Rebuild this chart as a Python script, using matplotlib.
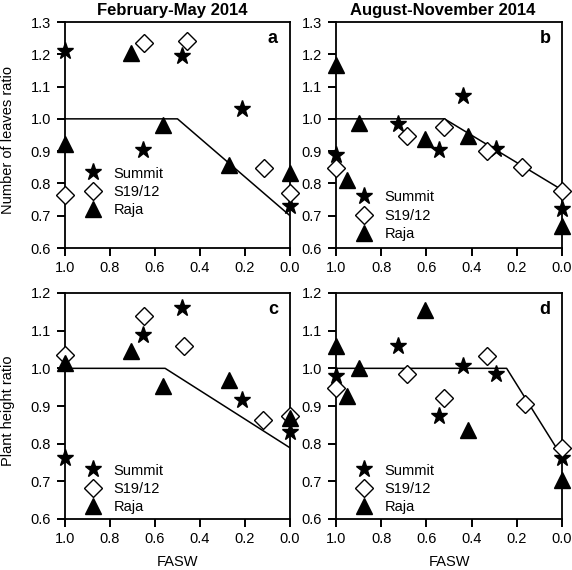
import numpy as np
import matplotlib.pyplot as plt

plt.rcParams["font.family"] = ["Liberation Sans", "DejaVu Sans"]

# ============================================================
# Data
# ============================================================

# Panel a: number of leaves ratio, February-May 2014
a_summit_x = [1.0, 0.48, 0.655, 0.215, 0.0]
a_summit_y = [1.21, 1.196, 0.905, 1.03, 0.73]
a_s1912_x  = [1.0, 0.65, 0.46, 0.114, 0.0]
a_s1912_y  = [0.765, 1.235, 1.242, 0.848, 0.77]
a_raja_x   = [1.0, 0.708, 0.563, 0.27, 0.0]
a_raja_y   = [0.923, 1.204, 0.982, 0.856, 0.832]
a_line_x   = [1.0, 0.5, 0.0]
a_line_y   = [1.0, 1.0, 0.70]

# Panel b: number of leaves ratio, August-November 2014
b_summit_x = [1.0, 0.724, 0.544, 0.439, 0.292, 0.0]
b_summit_y = [0.889, 0.985, 0.903, 1.07, 0.908, 0.721]
b_s1912_x  = [1.0, 0.687, 0.524, 0.332, 0.177, 0.0]
b_s1912_y  = [0.848, 0.946, 0.975, 0.899, 0.851, 0.776]
b_raja_x   = [1.0, 0.953, 0.898, 0.606, 0.414, 0.0]
b_raja_y   = [1.166, 0.812, 0.987, 0.938, 0.946, 0.667]
b_line_x   = [1.0, 0.52, 0.0]
b_line_y   = [1.0, 1.0, 0.78]

# Panel c: plant height ratio, February-May 2014
c_summit_x = [1.0, 0.655, 0.481, 0.215, 0.0]
c_summit_y = [0.762, 1.089, 1.16, 0.915, 0.83]
c_s1912_x  = [1.0, 0.649, 0.47, 0.119, 0.0]
c_s1912_y  = [1.036, 1.138, 1.06, 0.864, 0.873]
c_raja_x   = [1.0, 0.708, 0.563, 0.27, 0.0]
c_raja_y   = [1.014, 1.045, 0.954, 0.97, 0.868]
c_line_x   = [1.0, 0.555, 0.0]
c_line_y   = [1.0, 1.0, 0.789]

# Panel d: plant height ratio, August-November 2014
d_summit_x = [1.0, 0.724, 0.544, 0.439, 0.292, 0.0]
d_summit_y = [0.979, 1.058, 0.874, 1.007, 0.986, 0.762]
d_s1912_x  = [1.0, 0.687, 0.524, 0.332, 0.165, 0.0]
d_s1912_y  = [0.948, 0.986, 0.921, 1.032, 0.904, 0.789]
d_raja_x   = [1.0, 0.953, 0.898, 0.606, 0.414, 0.0]
d_raja_y   = [1.058, 0.926, 1.001, 1.156, 0.837, 0.704]
d_line_x   = [1.0, 0.245, 0.0]
d_line_y   = [1.0, 1.0, 0.765]

X_TICKS = [1.0, 0.8, 0.6, 0.4, 0.2, 0.0]

# ============================================================
# Figure
# ============================================================

W, H = 572, 570
fig = plt.figure(figsize=(W / 100, H / 100), dpi=100)

def px_axes(left, top, right, bottom):
    return fig.add_axes([left / W, 1 - bottom / H, (right - left) / W, (bottom - top) / H])

ax_a = px_axes(65, 22, 290, 248)
ax_b = px_axes(336, 22, 562, 248)
ax_c = px_axes(65, 293, 290, 519)
ax_d = px_axes(336, 293, 562, 519)

# (axes, letter, series..., line, ylim, legend y anchor)
panels = [
    (ax_a, "a", (a_summit_x, a_summit_y), (a_s1912_x, a_s1912_y), (a_raja_x, a_raja_y), (a_line_x, a_line_y), (0.6, 1.3), 0.11),
    (ax_b, "b", (b_summit_x, b_summit_y), (b_s1912_x, b_s1912_y), (b_raja_x, b_raja_y), (b_line_x, b_line_y), (0.6, 1.3), 0.005),
    (ax_c, "c", (c_summit_x, c_summit_y), (c_s1912_x, c_s1912_y), (c_raja_x, c_raja_y), (c_line_x, c_line_y), (0.6, 1.2), -0.005),
    (ax_d, "d", (d_summit_x, d_summit_y), (d_s1912_x, d_s1912_y), (d_raja_x, d_raja_y), (d_line_x, d_line_y), (0.6, 1.2), -0.005),
]

for ax, letter, summit, s1912, raja, line, ylim, leg_y in panels:
    ax.plot(line[0], line[1], color="black", linewidth=1.1, zorder=2)
    ax.plot(summit[0], summit[1], linestyle="none", marker="*", markersize=12.5,
            color="black", label="Summit", clip_on=False, zorder=3)
    ax.plot(s1912[0], s1912[1], linestyle="none", marker="D", markersize=9,
            markerfacecolor="white", markeredgecolor="black", markeredgewidth=1.0,
            label="S19/12", clip_on=False, zorder=4)
    ax.plot(raja[0], raja[1], linestyle="none", marker="^", markersize=12,
            color="black", label="Raja", clip_on=False, zorder=5)

    ax.set_xlim(1.0, 0.0)
    ax.set_ylim(*ylim)
    ax.set_xticks(X_TICKS)
    ax.set_xticklabels([f"{v:.1f}" for v in X_TICKS])
    ax.set_yticks(np.round(np.arange(ylim[0], ylim[1] + 0.001, 0.1), 1))
    ax.yaxis.set_major_formatter(plt.FormatStrFormatter("%.1f"))
    ax.tick_params(direction="out", length=5.5, width=1.4, labelsize=10.5,
                   top=False, right=False)
    ax.tick_params(axis="y", pad=4.5)
    ax.tick_params(axis="x", pad=4)
    for sp in ax.spines.values():
        sp.set_linewidth(1.3)

    ax.text(0.924, 0.925, letter, transform=ax.transAxes, fontsize=13,
            fontweight="bold", ha="center", va="center")

    ax.legend(loc="lower left", bbox_to_anchor=(0.05, leg_y), frameon=False,
              fontsize=10.5, handletextpad=0.65, labelspacing=0.3,
              borderaxespad=0.0, handlelength=1.5)

ax_a.set_title("February-May 2014", fontsize=12, fontweight="bold", pad=5, x=0.475)
ax_b.set_title("August-November 2014", fontsize=12, fontweight="bold", pad=5, x=0.47)
ax_a.set_ylabel("Number of leaves ratio", fontsize=10.5)
ax_c.set_ylabel("Plant height ratio", fontsize=10.5)
for ax in (ax_a, ax_c):
    ax.yaxis.set_label_coords(-0.255, 0.48)
    ax.yaxis.label.set_va("center")
for ax in (ax_c, ax_d):
    ax.set_xlabel("FASW", fontsize=10.5)
    ax.xaxis.set_label_coords(0.5, -0.19)
    ax.xaxis.label.set_va("center")

fig.savefig("out.png", dpi=100)
